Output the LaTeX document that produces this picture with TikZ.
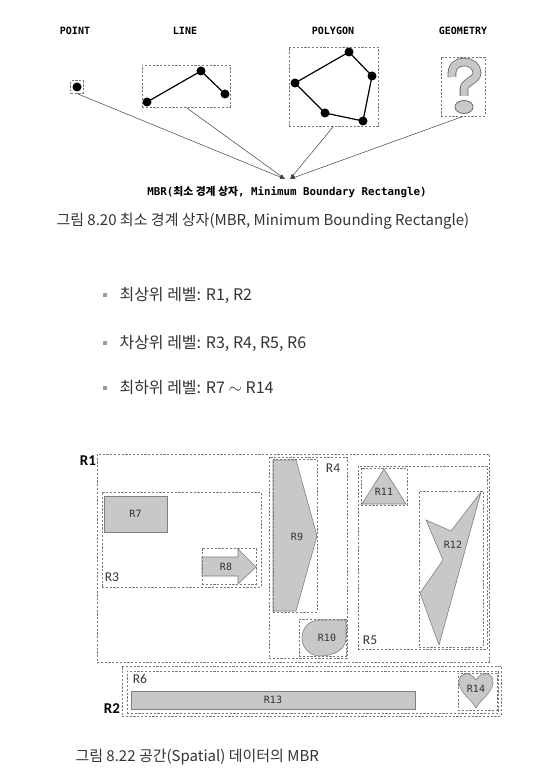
\documentclass[tikz,border=0pt]{standalone}
\usepackage{fontspec}
\setmainfont{Noto Sans CJK KR}
\setmonofont{DejaVu Sans Mono}
\newfontfamily\carl{Carlito}
\usepackage{tikz}
\usetikzlibrary{arrows.meta,fit}
\definecolor{ink}{HTML}{333333}
\definecolor{dashc}{HTML}{7A7A7A}
\definecolor{shp}{HTML}{C8C8C8}
\definecolor{shpl}{HTML}{808080}

\begin{document}
\begin{tikzpicture}[x=1pt,y=-1pt,>=Latex, mbr/.style={draw=dashc,dash pattern=on 2.2pt off 1.6pt,line width=0.8pt,inner sep=0pt}, geo/.style={font=\ttfamily\bfseries\fontsize{10}{12}\selectfont}, vtx/.style={circle,fill=black,inner sep=0pt,minimum size=9pt}, region/.style={fill=shp,draw=shpl,line width=0.6pt}, rlab/.style={font=\ttfamily\fontsize{10}{12}\selectfont,text=ink}, blab/.style={font=\carl\fontsize{13.5}{15}\selectfont,text=ink}, toplab/.style={font=\carl\bfseries\fontsize{15}{16}\selectfont}, captext/.style={font=\fontsize{15}{17}\selectfont,text=ink,anchor=west}, conn/.style={line width=0.5pt,draw=black!75,arrows={-Latex[length=5pt,width=4pt]}}]
  \useasboundingbox (0,0) rectangle (552,783);
  % figure 8.20
  \node[geo] (tpoint) at (75,31) {POINT};
  \node[geo] (tline) at (185,31) {LINE};
  \node[geo] (tpoly) at (333,31) {POLYGON};
  \node[geo] (tgeom) at (463,31) {GEOMETRY};
  \node[vtx] (p1) at (77,87) {};
  \node[mbr,fit=(p1),inner sep=1.5pt] (bpoint) {};
  \foreach \n/\x/\y in {1/147/102,2/201/71,3/225/94}{\node[vtx] (l\n) at (\x,\y) {};}
  \draw[line width=1.2pt] (l1.center)--(l2.center)--(l3.center);
  \node[mbr,fit={(142,65) (230,107)}] (bline) {};
  \foreach \n/\x/\y in {1/349/52,2/372/76,3/363/121,4/325/113,5/295/83}{\node[vtx] (g\n) at (\x,\y) {};}
  \draw[line width=1.2pt] (g1.center)--(g2.center)--(g3.center)--(g4.center)--(g5.center)--cycle;
  \node[mbr,fit={(289,47) (378,126)}] (bpoly) {};
  \draw[double=shp,double distance=7pt,draw=black!60,line width=0.8pt] (452,77) .. controls (451,66) and (457,62) .. (464,62) .. controls (472,62) and (477,67) .. (477,73) .. controls (477,80) and (464,82) .. (464,89) -- (464,96);
  \draw[region,draw=black!60,line width=0.8pt] (464,107) ellipse [x radius=9,y radius=6.5];
  \node[mbr,fit={(441,57) (485,116)}] (bgeom) {};
  \coordinate (tipl) at (285,179);
  \coordinate (tipr) at (290,179);
  \draw[conn] (bpoint.south) -- (tipl);
  \draw[conn] (bline.south) -- (tipl);
  \draw[conn] (bpoly.south) -- (tipr);
  \draw[conn] (bgeom.south) -- (tipr);
  \node[geo,font=\ttfamily\bfseries\fontsize{10.8}{12}\selectfont] (mbrlab) at (287,192) {MBR(\rmfamily 최소 경계 상자\ttfamily, Minimum Boundary Rectangle)};
  \node[captext] (cap1) at (53,221) {그림 8.20 최소 경계 상자(MBR, Minimum Bounding Rectangle)};
  % levels
  \foreach \y/\t [count=\i] in {295/{최상위 레벨: R1, R2},343/{차상위 레벨: R3, R4, R5, R6},388/{최하위 레벨: R7 $\sim$ R14}}{
    \node[fill=black!40,minimum size=4.5pt,inner sep=0pt] (dot\i) at (105,\y) {};
    \node[captext,font=\fontsize{16}{18}\selectfont] (lev\i) at (116,\y) {\t};
  }
  % figure 8.22
  \node[mbr,fit={(97,454) (489,662)}] (r1) {};
  \node[toplab] (r1lab) at (88,461) {R1};
  \node[mbr,fit={(102,492) (261,587)}] (r3) {};
  \node[blab] (r3lab) at (112,577) {R3};
  \node[region,minimum width=63pt,minimum height=36pt,rlab] (r7) at (135.5,514) {R7};
  \draw[region] (202,557) -- (238,557) -- (238,549) -- (256,567) -- (238,584) -- (238,576) -- (202,576) -- cycle;
  \node[mbr,fit={(202,548) (256,584)}] (r8) {};
  \node[rlab] (r8lab) at (226,567) {R8};
  \node[mbr,fit={(269,457) (347,658)}] (r4) {};
  \node[blab] (r4lab) at (333,468) {R4};
  \draw[region] (273,460) -- (296,460) -- (317,536) -- (296,611) -- (273,611) -- cycle;
  \node[mbr,fit={(273,459) (317,612)}] (r9) {};
  \node[rlab] (r9lab) at (297,537) {R9};
  \draw[region] (346,620) -- (320,620) .. controls (308,620) and (302,629) .. (302,638) .. controls (302,648) and (310,656) .. (320,656) .. controls (333,656) and (346,650) .. (346,638) -- cycle;
  \node[mbr,fit={(299,619) (346,656)}] (r10) {};
  \node[rlab] (r10lab) at (327,638) {R10};
  \node[mbr,fit={(358,466) (487,649)}] (r5) {};
  \node[blab] (r5lab) at (370,640) {R5};
  \draw[region] (384,469) -- (406,504) -- (362,504) -- cycle;
  \node[mbr,fit={(361,468) (407,505)}] (r11) {};
  \node[rlab] (r11lab) at (384,492) {R11};
  \draw[region] (481,492) -- (451,531) -- (426,520) -- (443,560) -- (420,593) -- (439,645) -- cycle;
  \node[mbr,fit={(419,491) (483,647)}] (r12) {};
  \node[rlab] (r12lab) at (453,545) {R12};
  \node[mbr,fit={(122,666) (501,716)}] (r2) {};
  \node[toplab] (r2lab) at (112,709) {R2};
  \node[mbr,fit={(127,671) (498,713)}] (r6) {};
  \node[blab] (r6lab) at (140,679) {R6};
  \node[region,minimum width=284pt,minimum height=18pt,rlab] (r13) at (273,700) {R13};
  \draw[region] (476,680) .. controls (470,670) and (458,673) .. (459,683) .. controls (460,693) and (472,700) .. (476,708) .. controls (480,700) and (492,693) .. (493,683) .. controls (494,673) and (482,670) .. (476,680) -- cycle;
  \node[mbr,fit={(458,673) (497,710)}] (r14) {};
  \node[rlab] (r14lab) at (476,689) {R14};
  \node[captext] (cap2) at (72,757) {그림 8.22 공간(Spatial) 데이터의 MBR};
\end{tikzpicture}
\end{document}
